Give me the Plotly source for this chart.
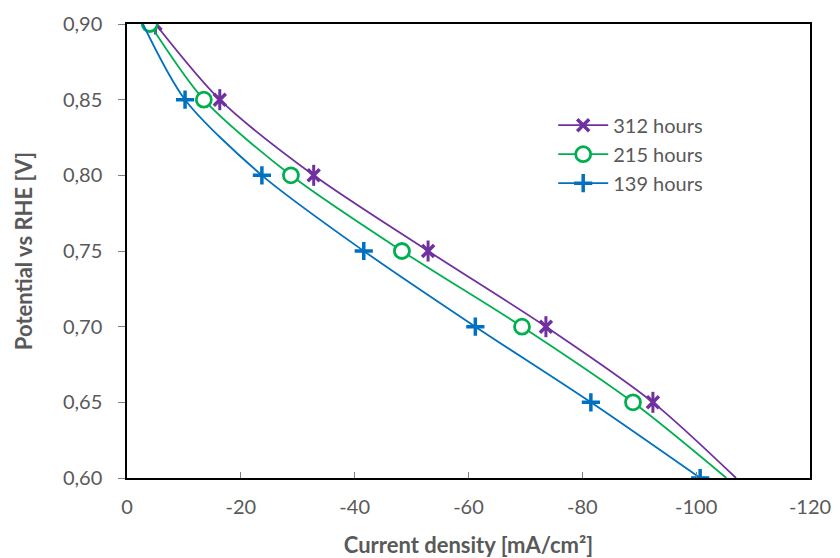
import plotly.graph_objects as go

# Data (potential in V, current density in mA/cm²)
pot_312 = [0.90, 0.85, 0.80, 0.75, 0.70, 0.65, 0.60]
cur_312 = [-5.0, -16.3, -32.8, -52.9, -73.6, -92.4, -107.0]
show_312 = [1, 1, 1, 1, 1, 1, 0]

pot_215 = [0.90, 0.85, 0.80, 0.75, 0.70, 0.65, 0.60]
cur_215 = [-4.0, -13.5, -28.8, -48.3, -69.4, -88.9, -105.3]
show_215 = [1, 1, 1, 1, 1, 1, 0]

# ordered bottom-up so the first point carries a visible marker
pot_139 = [0.60, 0.65, 0.70, 0.75, 0.80, 0.85, 0.90]
cur_139 = [-100.7, -81.5, -61.2, -41.6, -23.7, -10.2, -2.8]
show_139 = [1, 1, 1, 1, 1, 1, 0]

x_ticks = [0, -20, -40, -60, -80, -100, -120]
x_ticktext = ["0", "-20", "-40", "-60", "-80", "-100", "-120"]
y_ticks = [0.60, 0.65, 0.70, 0.75, 0.80, 0.85, 0.90]

PURPLE = "#7030A0"
GREEN = "#00B050"
BLUE = "#0070C0"
CLEAR = "rgba(0,0,0,0)"


def cols(show, c):
    return [c if s else CLEAR for s in show]


fig = go.Figure()

# 312 hours: x marker + vertical bar overlay (Excel "star")
fig.add_trace(go.Scatter(
    x=cur_312, y=pot_312, mode="lines+markers", name="312 hours",
    line=dict(color=PURPLE, width=1.8, shape="spline", smoothing=0.8),
    marker=dict(symbol="x-thin-open", size=12, color=cols(show_312, PURPLE),
                line=dict(width=3.5, color=cols(show_312, PURPLE))),
))
fig.add_trace(go.Scatter(
    x=cur_312, y=pot_312, mode="markers", showlegend=False, hoverinfo="skip",
    marker=dict(symbol="line-ns-open", size=15, color=cols(show_312, PURPLE),
                line=dict(width=3, color=cols(show_312, PURPLE))),
))

fig.add_trace(go.Scatter(
    x=cur_215, y=pot_215, mode="lines+markers", name="215 hours",
    line=dict(color=GREEN, width=1.8, shape="spline", smoothing=0.8),
    marker=dict(symbol="circle", size=15, color=cols(show_215, "white"),
                line=dict(width=2.8, color=cols(show_215, GREEN))),
))

fig.add_trace(go.Scatter(
    x=cur_139, y=pot_139, mode="lines+markers", name="139 hours",
    line=dict(color=BLUE, width=1.8, shape="spline", smoothing=0.8),
    marker=dict(symbol="cross-thin-open", size=13, color=cols(show_139, BLUE),
                line=dict(width=3.5, color=cols(show_139, BLUE))),
))

FONT = "Lato, 'Open Sans', sans-serif"
GREY = "#595959"

fig.update_layout(
    width=840, height=558,
    margin=dict(l=127, r=30, t=24, b=80),
    paper_bgcolor="white", plot_bgcolor="white",
    separators=",.",
    font=dict(family=FONT, size=20, color=GREY),
    showlegend=True,
    legend=dict(x=0.624, y=0.82, xanchor="left", yanchor="top",
                bgcolor="rgba(0,0,0,0)", font=dict(size=20, color=GREY),
                tracegroupgap=0, itemwidth=50),
)

fig.update_xaxes(
    range=[0, -120], tickvals=x_ticks, ticktext=x_ticktext,
    showgrid=False, zeroline=False, automargin=False,
    showline=True, linecolor="black", linewidth=1.5, mirror=True,
    ticks="inside", ticklen=6, tickcolor="#7f7f7f",
    tickfont=dict(size=20), ticklabelstandoff=10,
    title=dict(text="<b>Current density [mA/cm²]</b>", font=dict(size=22, color=GREY), standoff=22),
)
fig.update_yaxes(
    range=[0.60, 0.90], tickvals=y_ticks, tickformat=".2f",
    showgrid=False, zeroline=False, automargin=False,
    showline=True, linecolor="black", linewidth=1.5, mirror=True,
    ticks="outside", ticklen=7, tickcolor="#7f7f7f",
    tickfont=dict(size=20), ticklabelstandoff=12,
    title=dict(text="<b>Potential vs RHE [V]</b>", font=dict(size=22, color=GREY), standoff=24),
)

fig.write_html("out.html")
